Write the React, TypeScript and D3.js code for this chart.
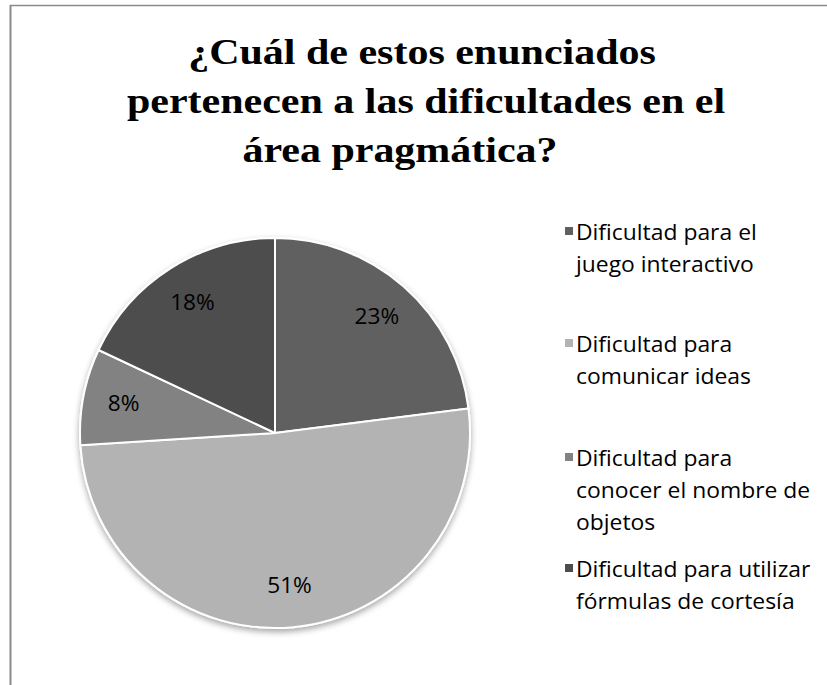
import React from 'react';
import * as d3 from 'd3';

// share of answers per option (percent)
const categories = [
  'Dificultad para el juego interactivo',
  'Dificultad para comunicar ideas',
  'Dificultad para conocer el nombre de objetos',
  'Dificultad para utilizar fórmulas de cortesía',
];
const values = [23, 51, 8, 18];
const sliceColors = ['#606060', '#b3b3b3', '#828282', '#4d4d4d'];
// legend text as it wraps in the original
const legendLines = [
  ['Dificultad para el', 'juego interactivo'],
  ['Dificultad para', 'comunicar ideas'],
  ['Dificultad para', 'conocer el nombre de', 'objetos'],
  ['Dificultad para utilizar', 'fórmulas de cortesía'],
];
const titleLines = [
  '¿Cuál de estos enunciados',
  'pertenecen a las dificultades en el',
  'área pragmática?',
];

const W = 827;
const H = 685;

const App = () => {
  const cx = 275;
  const cy = 433;
  const radius = 195;

  const total = d3.sum(values);
  const pie = d3.pie<number>().sort(null).startAngle(0).endAngle(2 * Math.PI);
  const arcs = pie(values);
  const arc = d3.arc<d3.PieArcDatum<number>>().innerRadius(0).outerRadius(radius);
  const labelArc = d3.arc<d3.PieArcDatum<number>>().innerRadius(radius * 0.79).outerRadius(radius * 0.79);
  const fmt = (v: number) => d3.format('.0%')(v / total);

  // title line centres / legend rows (layout only)
  const titleX = [422, 426, 400];
  const titleY = [64, 113, 162];
  const legendY = [240, 352, 466, 577];
  const lineH = 32;
  const sans = '"Open Sans", "Noto Sans", sans-serif';

  return (
    <svg width={W} height={H} style={{ position: 'absolute', left: 0, top: 0, background: '#fff' }}>
      <defs>
        <filter id="shadow" x="-20%" y="-20%" width="140%" height="140%">
          <feDropShadow dx="0" dy="3" stdDeviation="3" floodColor="#000" floodOpacity="0.35" />
        </filter>
      </defs>
      {/* chart frame (cropped on right and bottom) */}
      <line x1={10.5} y1={5} x2={10.5} y2={H} stroke="#8a8a8a" strokeWidth={2} />
      <line x1={10} y1={5.5} x2={W} y2={5.5} stroke="#8a8a8a" strokeWidth={1.5} />

      {titleLines.map((t, i) => (
        <text
          key={i}
          transform={`translate(${titleX[i]},${titleY[i]}) scale(1.2,1)`}
          textAnchor="middle"
          fontFamily='"Liberation Serif", "Times New Roman", serif'
          fontWeight="bold"
          fontSize={35}
          fill="#000"
        >
          {t}
        </text>
      ))}

      <g transform={`translate(${cx},${cy})`}>
        <g filter="url(#shadow)">
          {arcs.map((a, i) => (
            <path key={i} d={arc(a) || ''} fill={sliceColors[i]} stroke="#fff" strokeWidth={2} strokeLinejoin="round" />
          ))}
        </g>
        {arcs.map((a, i) => {
          const [lx, ly] = labelArc.centroid(a);
          return (
            <text
              key={i}
              transform={`translate(${lx},${ly + 7}) scale(1.08,1)`}
              textAnchor="middle"
              fontFamily={sans}
              fontSize={21}
              fill="#000"
            >
              {fmt(values[i])}
            </text>
          );
        })}
      </g>

      {categories.map((c, i) => (
        <g key={c}>
          <rect x={565} y={legendY[i] - 13} width={8} height={8} fill={sliceColors[i]} />
          {legendLines[i].map((ln, j) => (
            <text
              key={j}
              transform={`translate(576,${legendY[i] + j * lineH}) scale(1.09,1)`}
              fontFamily={sans}
              fontSize={21}
              fill="#000"
            >
              {ln}
            </text>
          ))}
        </g>
      ))}
    </svg>
  );
};

export default App;
